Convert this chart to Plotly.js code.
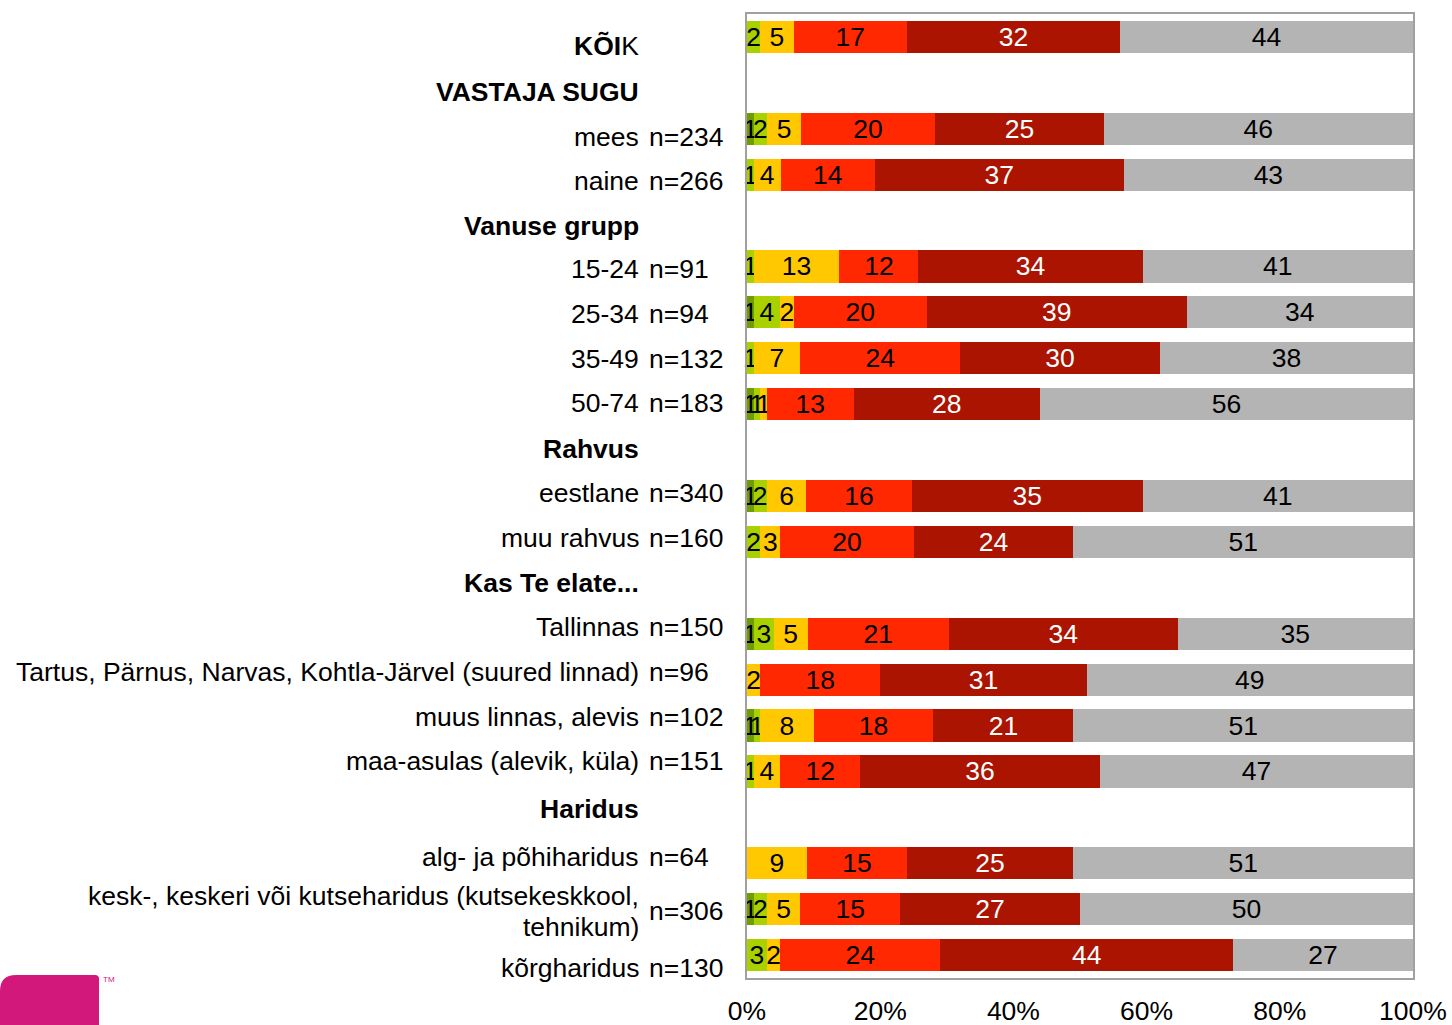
<!DOCTYPE html>
<html>
<head>
<meta charset="utf-8">
<script src="https://cdn.plot.ly/plotly-3.0.1.min.js"></script>
<style>
html,body{margin:0;padding:0;background:#fff;}
#chart{width:1452px;height:1025px;}
</style>
</head>
<body>
<div id="chart"></div>
<script>
// ---- Data ----
const rowLabels = ['<b>KÕI</b>K', '<b>VASTAJA SUGU</b>', 'mees', 'naine', '<b>Vanuse grupp</b>',
  '15-24', '25-34', '35-49', '50-74', '<b>Rahvus</b>', 'eestlane', 'muu rahvus',
  '<b>Kas Te elate...</b>', 'Tallinnas', 'Tartus, Pärnus, Narvas, Kohtla-Järvel (suured linnad)',
  'muus linnas, alevis', 'maa-asulas (alevik, küla)', '<b>Haridus</b>', 'alg- ja põhiharidus',
  'kesk-, keskeri või kutseharidus (kutsekeskkool,<br>tehnikum)', 'kõrgharidus'];
const nLabels = ['', '', 'n=234', 'n=266', '', 'n=91', 'n=94', 'n=132', 'n=183', '', 'n=340', 'n=160',
  '', 'n=150', 'n=96', 'n=102', 'n=151', '', 'n=64', 'n=306', 'n=130'];

const darkGreen  = [0, null, 1, 0, null, 0, 1, 0, 1, null, 1, 0, null, 1, 0, 1, 0, null, 0, 1, 0];
const lightGreen = [2, null, 2, 1, null, 1, 4, 1, 1, null, 2, 2, null, 3, 0, 1, 1, null, 0, 2, 3];
const yellow     = [5, null, 5, 4, null, 13, 2, 7, 1, null, 6, 3, null, 5, 2, 8, 4, null, 9, 5, 2];
const red        = [17, null, 20, 14, null, 12, 20, 24, 13, null, 16, 20, null, 21, 18, 18, 12, null, 15, 15, 24];
const darkRed    = [32, null, 25, 37, null, 34, 39, 30, 28, null, 35, 24, null, 34, 31, 21, 36, null, 25, 27, 44];
const gray       = [44, null, 46, 43, null, 41, 34, 38, 56, null, 41, 51, null, 35, 49, 51, 47, null, 51, 50, 27];

const xTicks = [0, 20, 40, 60, 80, 100];

// ---- Layout helpers (pixel offsets of the left labels below each bar centre) ----
const labelDrop = [9, 9, 8, 6, 5, 3, 2, 1, -1, -1, -3, -4, -5, -7, -8, -9, -10, -8, -6, 2, 13];

const FONT = 'Liberation Sans, Arial, sans-serif';
const FS = 26.5;
const idx = rowLabels.map((_, i) => i);
const series = [
  {v: darkGreen,  c: '#6f9c00', t: '#000000'},
  {v: lightGreen, c: '#a9d100', t: '#000000'},
  {v: yellow,     c: '#ffc800', t: '#000000'},
  {v: red,        c: '#ff2800', t: '#000000'},
  {v: darkRed,    c: '#aa1400', t: '#ffffff'},
  {v: gray,       c: '#b4b4b4', t: '#000000'}
];
const traces = series.map(s => ({
  type: 'bar', orientation: 'h',
  x: s.v, y: idx,
  text: s.v.map(v => (v ? String(v) : '')),
  textposition: 'inside', insidetextanchor: 'middle', textangle: 0,
  textfont: {family: FONT, size: FS, color: s.t},
  marker: {color: s.c, line: {width: 0}},
  hoverinfo: 'skip', cliponaxis: false
}));

const plotL = 747, plotR = 1413, plotT = 14, plotB = 978;
const pw = plotR - plotL, ph = plotB - plotT;
const px2x = p => (p - plotL) / pw;
const py2y = p => (plotB - p) / ph;

const annotations = [];
rowLabels.forEach((lab, i) => {
  const lines = lab.split('<br>');
  if (lines.length > 1) {
    annotations.push({
      xref: 'paper', yref: 'y', x: px2x(641), y: i, xanchor: 'right', yanchor: 'middle',
      text: lines[0], showarrow: false,
      font: {family: FONT, size: FS, color: '#000'}, yshift: 13
    });
    annotations.push({
      xref: 'paper', yref: 'y', x: px2x(641), y: i, xanchor: 'right', yanchor: 'middle',
      text: lines[1], showarrow: false,
      font: {family: FONT, size: FS, color: '#000'}, yshift: -18
    });
  } else {
    annotations.push({
      xref: 'paper', yref: 'y', x: px2x(641), y: i, xanchor: 'right', yanchor: 'middle',
      text: lab, showarrow: false,
      font: {family: FONT, size: FS, color: '#000'}, yshift: -labelDrop[i]
    });
  }
  if (nLabels[i]) {
    annotations.push({
      xref: 'paper', yref: 'y', x: px2x(647), y: i, xanchor: 'left', yanchor: 'middle',
      text: nLabels[i], showarrow: false,
      font: {family: FONT, size: FS, color: '#000'}, yshift: -labelDrop[i]
    });
  }
});
annotations.push({
  xref: 'paper', yref: 'paper', x: px2x(101), y: py2y(979), xanchor: 'left', yanchor: 'middle',
  text: 'TM', showarrow: false, font: {family: FONT, size: 8, color: '#d2187a'}
});

// logo shape
const x0 = px2x(0), x1 = px2x(99), yt = py2y(975), yb = py2y(1030);
const r1x = 16 / pw, r1y = 16 / ph, r2x = 4 / pw, r2y = 4 / ph;
const logoPath = `M ${x0},${yb} L ${x0},${yt - r1y} Q ${x0},${yt} ${x0 + r1x},${yt} L ${x1 - r2x},${yt} Q ${x1},${yt} ${x1},${yt - r2y} L ${x1},${yb} Z`;

const layout = {
  width: 1452, height: 1025,
  margin: {l: plotL, r: 1452 - plotR, t: plotT, b: 1025 - plotB, pad: 0},
  paper_bgcolor: '#ffffff', plot_bgcolor: '#ffffff',
  barmode: 'stack', barnorm: 'percent', bargap: 0.3, showlegend: false,
  font: {family: FONT, size: FS, color: '#000'},
  uniformtext: {mode: 'show', minsize: FS},
  xaxis: {
    range: [0, 100], tickvals: xTicks, ticktext: xTicks.map(v => v + '%'),
    showgrid: false, zeroline: false, ticks: '', ticklabelstandoff: 8,
    showline: true, mirror: true, linecolor: '#a0a0a0', linewidth: 2,
    tickfont: {family: FONT, size: FS, color: '#000'}, fixedrange: true
  },
  yaxis: {
    range: [rowLabels.length - 0.5, -0.5], showticklabels: false, showgrid: false,
    zeroline: false, ticks: '', showline: true, mirror: true, linecolor: '#a0a0a0', linewidth: 2,
    fixedrange: true
  },
  annotations: annotations,
  shapes: [{type: 'path', xref: 'paper', yref: 'paper', path: logoPath,
    fillcolor: '#d2187a', line: {width: 0}, layer: 'above'}]
};

Plotly.newPlot('chart', traces, layout, {displayModeBar: false, staticPlot: true});
</script>
</body>
</html>
